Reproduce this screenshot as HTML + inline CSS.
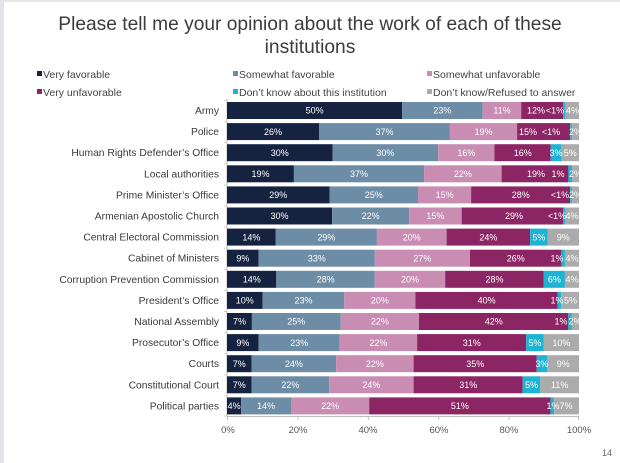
<!DOCTYPE html>
<html>
<head>
<meta charset="utf-8">
<style>
  html,body{margin:0;padding:0;background:#fff;}
  body{width:620px;height:463px;overflow:hidden;position:relative;}
  svg{display:block;font-family:"Liberation Sans","DejaVu Sans",sans-serif;}
  .cat{font-size:10.3px;fill:#3a3a3a;text-anchor:end;}
  .lg{font-size:10.5px;fill:#444;}
  .v{font-size:9px;fill:#fff;text-anchor:middle;}
  .ax{font-size:9.5px;fill:#555;text-anchor:middle;}
</style>
</head>
<body>
<svg width="620" height="463" viewBox="0 0 620 463" xmlns="http://www.w3.org/2000/svg">
  <rect x="0" y="0" width="620" height="463" fill="#fff"/>
  <rect x="0" y="0" width="620" height="2" fill="#e6e6e8"/>
  <rect x="0" y="0" width="4" height="463" fill="#e4e4e8"/>

  <!-- Title -->
  <text x="310" y="30" text-anchor="middle" font-size="19.2" fill="#3c3c3c">Please tell me your opinion about the work of each of these</text>
  <text x="310" y="53" text-anchor="middle" font-size="19.2" fill="#3c3c3c">institutions</text>

  <!-- Legend -->
  <rect x="37" y="71" width="5" height="5" fill="#162340"/>
  <text class="lg" x="43" y="78">Very favorable</text>
  <rect x="233" y="71" width="5" height="5" fill="#6d8ca6"/>
  <text class="lg" x="239" y="78">Somewhat favorable</text>
  <rect x="427" y="71" width="5" height="5" fill="#c98db4"/>
  <text class="lg" x="433" y="78">Somewhat unfavorable</text>
  <rect x="37" y="89" width="5" height="5" fill="#8c2564"/>
  <text class="lg" x="43" y="96">Very unfavorable</text>
  <rect x="233" y="89" width="5" height="5" fill="#1cb4d2"/>
  <text class="lg" x="239" y="96">Don’t know about this institution</text>
  <rect x="427" y="89" width="5" height="5" fill="#ababab"/>
  <text class="lg" x="433" y="96">Don’t know/Refused to answer</text>

  <!-- Axes -->
  <line x1="227" y1="99" x2="227" y2="416" stroke="#bdbdbd" stroke-width="1"/>
  <line x1="227" y1="416.5" x2="579" y2="416.5" stroke="#bdbdbd" stroke-width="1"/>
  <g stroke="#bdbdbd" stroke-width="1">
    <line x1="227.5" y1="416" x2="227.5" y2="420"/>
    <line x1="297.9" y1="416" x2="297.9" y2="420"/>
    <line x1="368.3" y1="416" x2="368.3" y2="420"/>
    <line x1="438.7" y1="416" x2="438.7" y2="420"/>
    <line x1="509.1" y1="416" x2="509.1" y2="420"/>
    <line x1="578.5" y1="416" x2="578.5" y2="420"/>
  </g>
  <g stroke="#cfcfcf" stroke-width="1">
    <line x1="224" y1="100.5" x2="227" y2="100.5"/><line x1="224" y1="121.6" x2="227" y2="121.6"/>
    <line x1="224" y1="142.7" x2="227" y2="142.7"/><line x1="224" y1="163.8" x2="227" y2="163.8"/>
    <line x1="224" y1="184.9" x2="227" y2="184.9"/><line x1="224" y1="206" x2="227" y2="206"/>
    <line x1="224" y1="227.1" x2="227" y2="227.1"/><line x1="224" y1="248.2" x2="227" y2="248.2"/>
    <line x1="224" y1="269.3" x2="227" y2="269.3"/><line x1="224" y1="290.4" x2="227" y2="290.4"/>
    <line x1="224" y1="311.5" x2="227" y2="311.5"/><line x1="224" y1="332.6" x2="227" y2="332.6"/>
    <line x1="224" y1="353.7" x2="227" y2="353.7"/><line x1="224" y1="374.8" x2="227" y2="374.8"/>
    <line x1="224" y1="395.9" x2="227" y2="395.9"/><line x1="224" y1="416" x2="227" y2="416"/>
  </g>
  <text class="ax" x="228" y="433">0%</text>
  <text class="ax" x="298" y="433">20%</text>
  <text class="ax" x="368" y="433">40%</text>
  <text class="ax" x="439" y="433">60%</text>
  <text class="ax" x="509" y="433">80%</text>
  <text class="ax" x="579" y="433">100%</text>
  <text x="612" y="456" text-anchor="end" font-size="9" fill="#666">14</text>

  <!-- Category labels -->
  <text class="cat" x="219" y="114">Army</text>
  <text class="cat" x="219" y="135.1">Police</text>
  <text class="cat" x="219" y="156.2">Human Rights Defender’s Office</text>
  <text class="cat" x="219" y="177.3">Local authorities</text>
  <text class="cat" x="219" y="198.4">Prime Minister’s Office</text>
  <text class="cat" x="219" y="219.5">Armenian Apostolic Church</text>
  <text class="cat" x="219" y="240.6">Central Electoral Commission</text>
  <text class="cat" x="219" y="261.7">Cabinet of Ministers</text>
  <text class="cat" x="219" y="282.8">Corruption Prevention Commission</text>
  <text class="cat" x="219" y="303.9">President’s Office</text>
  <text class="cat" x="219" y="325">National Assembly</text>
  <text class="cat" x="219" y="346.1">Prosecutor’s Office</text>
  <text class="cat" x="219" y="367.2">Courts</text>
  <text class="cat" x="219" y="388.3">Constitutional Court</text>
  <text class="cat" x="219" y="409.4">Political parties</text>

  <!-- Bars -->
  <!-- Row 0 Army -->
  <g>
    <rect x="227" y="102" width="175.1" height="17" fill="#162340"/>
    <rect x="402.1" y="102" width="80.6" height="17" fill="#6d8ca6"/>
    <rect x="482.7" y="102" width="38.5" height="17" fill="#c98db4"/>
    <rect x="521.2" y="102" width="42" height="17" fill="#8c2564"/>
    <rect x="563.2" y="102" width="1.8" height="17" fill="#1cb4d2"/>
    <rect x="565" y="102" width="14" height="17" fill="#ababab"/>
    <text class="v" x="314.6" y="113.7">50%</text>
    <text class="v" x="442.4" y="113.7">23%</text>
    <text class="v" x="502" y="113.7">11%</text>
    <text class="v" x="536" y="113.7">12%</text>
    <text class="v" x="555" y="113.7">&lt;1%</text>
    <text class="v" x="572.5" y="113.7">4%</text>
  </g>
  <!-- Row 1 Police -->
  <g>
    <rect x="227" y="123.1" width="92" height="17" fill="#162340"/>
    <rect x="319" y="123.1" width="130.9" height="17" fill="#6d8ca6"/>
    <rect x="449.9" y="123.1" width="67.2" height="17" fill="#c98db4"/>
    <rect x="517.1" y="123.1" width="53.1" height="17" fill="#8c2564"/>
    <rect x="570.2" y="123.1" width="1.7" height="17" fill="#1cb4d2"/>
    <rect x="571.9" y="123.1" width="7.1" height="17" fill="#ababab"/>
    <text class="v" x="273" y="134.8">26%</text>
    <text class="v" x="384.5" y="134.8">37%</text>
    <text class="v" x="483.5" y="134.8">19%</text>
    <text class="v" x="528" y="134.8">15%</text>
    <text class="v" x="551" y="134.8">&lt;1%</text>
    <text class="v" x="575.5" y="134.8">2%</text>
  </g>
  <!-- Row 2 HRDO -->
  <g>
    <rect x="227" y="144.2" width="105.6" height="17" fill="#162340"/>
    <rect x="332.6" y="144.2" width="105.6" height="17" fill="#6d8ca6"/>
    <rect x="438.2" y="144.2" width="56.3" height="17" fill="#c98db4"/>
    <rect x="494.5" y="144.2" width="56.3" height="17" fill="#8c2564"/>
    <rect x="550.8" y="144.2" width="10.6" height="17" fill="#1cb4d2"/>
    <rect x="561.4" y="144.2" width="17.6" height="17" fill="#ababab"/>
    <text class="v" x="279.8" y="155.9">30%</text>
    <text class="v" x="385.4" y="155.9">30%</text>
    <text class="v" x="466.4" y="155.9">16%</text>
    <text class="v" x="522.7" y="155.9">16%</text>
    <text class="v" x="556.1" y="155.9">3%</text>
    <text class="v" x="570.2" y="155.9">5%</text>
  </g>
  <!-- Row 3 Local -->
  <g>
    <rect x="227" y="165.3" width="66.9" height="17" fill="#162340"/>
    <rect x="293.9" y="165.3" width="130.2" height="17" fill="#6d8ca6"/>
    <rect x="424.1" y="165.3" width="77.5" height="17" fill="#c98db4"/>
    <rect x="501.6" y="165.3" width="66.8" height="17" fill="#8c2564"/>
    <rect x="568.4" y="165.3" width="3.6" height="17" fill="#1cb4d2"/>
    <rect x="572" y="165.3" width="7" height="17" fill="#ababab"/>
    <text class="v" x="260.5" y="177">19%</text>
    <text class="v" x="359" y="177">37%</text>
    <text class="v" x="462.9" y="177">22%</text>
    <text class="v" x="536" y="177">19%</text>
    <text class="v" x="558" y="177">1%</text>
    <text class="v" x="575.5" y="177">2%</text>
  </g>
  <!-- Row 4 PM -->
  <g>
    <rect x="227" y="186.4" width="102.6" height="17" fill="#162340"/>
    <rect x="329.6" y="186.4" width="88.4" height="17" fill="#6d8ca6"/>
    <rect x="418" y="186.4" width="53.1" height="17" fill="#c98db4"/>
    <rect x="471.1" y="186.4" width="99.1" height="17" fill="#8c2564"/>
    <rect x="570.2" y="186.4" width="1.7" height="17" fill="#1cb4d2"/>
    <rect x="571.9" y="186.4" width="7.1" height="17" fill="#ababab"/>
    <text class="v" x="278.3" y="198.1">29%</text>
    <text class="v" x="373.8" y="198.1">25%</text>
    <text class="v" x="444.6" y="198.1">15%</text>
    <text class="v" x="520.7" y="198.1">28%</text>
    <text class="v" x="560" y="198.1">&lt;1%</text>
    <text class="v" x="575.5" y="198.1">2%</text>
  </g>
  <!-- Row 5 Church -->
  <g>
    <rect x="227" y="207.5" width="105.1" height="17" fill="#162340"/>
    <rect x="332.1" y="207.5" width="77" height="17" fill="#6d8ca6"/>
    <rect x="409.1" y="207.5" width="52.6" height="17" fill="#c98db4"/>
    <rect x="461.7" y="207.5" width="101.5" height="17" fill="#8c2564"/>
    <rect x="563.2" y="207.5" width="1.8" height="17" fill="#1cb4d2"/>
    <rect x="565" y="207.5" width="14" height="17" fill="#ababab"/>
    <text class="v" x="279.5" y="219.2">30%</text>
    <text class="v" x="370.6" y="219.2">22%</text>
    <text class="v" x="435.4" y="219.2">15%</text>
    <text class="v" x="514" y="219.2">29%</text>
    <text class="v" x="557" y="219.2">&lt;1%</text>
    <text class="v" x="572" y="219.2">4%</text>
  </g>
  <!-- Row 6 CEC -->
  <g>
    <rect x="227" y="228.6" width="48.8" height="17" fill="#162340"/>
    <rect x="275.8" y="228.6" width="101.1" height="17" fill="#6d8ca6"/>
    <rect x="376.9" y="228.6" width="69.7" height="17" fill="#c98db4"/>
    <rect x="446.6" y="228.6" width="83.6" height="17" fill="#8c2564"/>
    <rect x="530.2" y="228.6" width="17.4" height="17" fill="#1cb4d2"/>
    <rect x="547.6" y="228.6" width="31.4" height="17" fill="#ababab"/>
    <text class="v" x="251.4" y="240.3">14%</text>
    <text class="v" x="326.4" y="240.3">29%</text>
    <text class="v" x="411.8" y="240.3">20%</text>
    <text class="v" x="488.4" y="240.3">24%</text>
    <text class="v" x="538.9" y="240.3">5%</text>
    <text class="v" x="563.3" y="240.3">9%</text>
  </g>
  <!-- Row 7 Cabinet -->
  <g>
    <rect x="227" y="249.7" width="31.7" height="17" fill="#162340"/>
    <rect x="258.7" y="249.7" width="116.1" height="17" fill="#6d8ca6"/>
    <rect x="374.8" y="249.7" width="95.1" height="17" fill="#c98db4"/>
    <rect x="469.9" y="249.7" width="91.5" height="17" fill="#8c2564"/>
    <rect x="561.4" y="249.7" width="3.5" height="17" fill="#1cb4d2"/>
    <rect x="564.9" y="249.7" width="14.1" height="17" fill="#ababab"/>
    <text class="v" x="242.9" y="261.4">9%</text>
    <text class="v" x="316.8" y="261.4">33%</text>
    <text class="v" x="422.4" y="261.4">27%</text>
    <text class="v" x="515.7" y="261.4">26%</text>
    <text class="v" x="557" y="261.4">1%</text>
    <text class="v" x="572" y="261.4">4%</text>
  </g>
  <!-- Row 8 CPC -->
  <g>
    <rect x="227" y="270.8" width="49.3" height="17" fill="#162340"/>
    <rect x="276.3" y="270.8" width="98.5" height="17" fill="#6d8ca6"/>
    <rect x="374.8" y="270.8" width="70.4" height="17" fill="#c98db4"/>
    <rect x="445.2" y="270.8" width="98.6" height="17" fill="#8c2564"/>
    <rect x="543.8" y="270.8" width="21.1" height="17" fill="#1cb4d2"/>
    <rect x="564.9" y="270.8" width="14.1" height="17" fill="#ababab"/>
    <text class="v" x="251.7" y="282.5">14%</text>
    <text class="v" x="325.6" y="282.5">28%</text>
    <text class="v" x="410" y="282.5">20%</text>
    <text class="v" x="494.5" y="282.5">28%</text>
    <text class="v" x="554.4" y="282.5">6%</text>
    <text class="v" x="572" y="282.5">4%</text>
  </g>
  <!-- Row 9 President -->
  <g>
    <rect x="227" y="291.9" width="35.6" height="17" fill="#162340"/>
    <rect x="262.6" y="291.9" width="81.7" height="17" fill="#6d8ca6"/>
    <rect x="344.3" y="291.9" width="71.1" height="17" fill="#c98db4"/>
    <rect x="415.4" y="291.9" width="142.3" height="17" fill="#8c2564"/>
    <rect x="557.7" y="291.9" width="3.5" height="17" fill="#1cb4d2"/>
    <rect x="561.2" y="291.9" width="17.8" height="17" fill="#ababab"/>
    <text class="v" x="244.8" y="303.6">10%</text>
    <text class="v" x="303.5" y="303.6">23%</text>
    <text class="v" x="379.9" y="303.6">20%</text>
    <text class="v" x="486.6" y="303.6">40%</text>
    <text class="v" x="557" y="303.6">1%</text>
    <text class="v" x="570.5" y="303.6">5%</text>
  </g>
  <!-- Row 10 NA -->
  <g>
    <rect x="227" y="313" width="24.9" height="17" fill="#162340"/>
    <rect x="251.9" y="313" width="88.9" height="17" fill="#6d8ca6"/>
    <rect x="340.8" y="313" width="78.2" height="17" fill="#c98db4"/>
    <rect x="419" y="313" width="149.3" height="17" fill="#8c2564"/>
    <rect x="568.3" y="313" width="3.6" height="17" fill="#1cb4d2"/>
    <rect x="571.9" y="313" width="7.1" height="17" fill="#ababab"/>
    <text class="v" x="239.5" y="324.7">7%</text>
    <text class="v" x="296.3" y="324.7">25%</text>
    <text class="v" x="379.9" y="324.7">22%</text>
    <text class="v" x="493.7" y="324.7">42%</text>
    <text class="v" x="561" y="324.7">1%</text>
    <text class="v" x="575" y="324.7">2%</text>
  </g>
  <!-- Row 11 Prosecutor -->
  <g>
    <rect x="227" y="334.1" width="31.7" height="17" fill="#162340"/>
    <rect x="258.7" y="334.1" width="80.9" height="17" fill="#6d8ca6"/>
    <rect x="339.6" y="334.1" width="77.5" height="17" fill="#c98db4"/>
    <rect x="417.1" y="334.1" width="109.1" height="17" fill="#8c2564"/>
    <rect x="526.2" y="334.1" width="17.6" height="17" fill="#1cb4d2"/>
    <rect x="543.8" y="334.1" width="35.2" height="17" fill="#ababab"/>
    <text class="v" x="242.9" y="345.8">9%</text>
    <text class="v" x="299.2" y="345.8">23%</text>
    <text class="v" x="378.4" y="345.8">22%</text>
    <text class="v" x="471.7" y="345.8">31%</text>
    <text class="v" x="535" y="345.8">5%</text>
    <text class="v" x="561.4" y="345.8">10%</text>
  </g>
  <!-- Row 12 Courts -->
  <g>
    <rect x="227" y="355.2" width="24.6" height="17" fill="#162340"/>
    <rect x="251.6" y="355.2" width="84.5" height="17" fill="#6d8ca6"/>
    <rect x="336.1" y="355.2" width="77.5" height="17" fill="#c98db4"/>
    <rect x="413.6" y="355.2" width="123.2" height="17" fill="#8c2564"/>
    <rect x="536.8" y="355.2" width="10.5" height="17" fill="#1cb4d2"/>
    <rect x="547.3" y="355.2" width="31.7" height="17" fill="#ababab"/>
    <text class="v" x="239.3" y="366.9">7%</text>
    <text class="v" x="293.9" y="366.9">24%</text>
    <text class="v" x="374.9" y="366.9">22%</text>
    <text class="v" x="475.2" y="366.9">35%</text>
    <text class="v" x="542" y="366.9">3%</text>
    <text class="v" x="563.2" y="366.9">9%</text>
  </g>
  <!-- Row 13 CC -->
  <g>
    <rect x="227" y="376.3" width="24.6" height="17" fill="#162340"/>
    <rect x="251.6" y="376.3" width="77.5" height="17" fill="#6d8ca6"/>
    <rect x="329.1" y="376.3" width="84.5" height="17" fill="#c98db4"/>
    <rect x="413.6" y="376.3" width="109.1" height="17" fill="#8c2564"/>
    <rect x="522.7" y="376.3" width="17.6" height="17" fill="#1cb4d2"/>
    <rect x="540.3" y="376.3" width="38.7" height="17" fill="#ababab"/>
    <text class="v" x="239.3" y="388">7%</text>
    <text class="v" x="290.4" y="388">22%</text>
    <text class="v" x="371.4" y="388">24%</text>
    <text class="v" x="468.2" y="388">31%</text>
    <text class="v" x="531.5" y="388">5%</text>
    <text class="v" x="559.7" y="388">11%</text>
  </g>
  <!-- Row 14 Parties -->
  <g>
    <rect x="227" y="397.4" width="14.2" height="17" fill="#162340"/>
    <rect x="241.2" y="397.4" width="49.8" height="17" fill="#6d8ca6"/>
    <rect x="291" y="397.4" width="78.2" height="17" fill="#c98db4"/>
    <rect x="369.2" y="397.4" width="181.4" height="17" fill="#8c2564"/>
    <rect x="550.6" y="397.4" width="3.5" height="17" fill="#1cb4d2"/>
    <rect x="554.1" y="397.4" width="24.9" height="17" fill="#ababab"/>
    <text class="v" x="234.1" y="409.1">4%</text>
    <text class="v" x="266.1" y="409.1">14%</text>
    <text class="v" x="330.1" y="409.1">22%</text>
    <text class="v" x="459.9" y="409.1">51%</text>
    <text class="v" x="553" y="409.1">1%</text>
    <text class="v" x="566" y="409.1">7%</text>
  </g>
</svg>
</body>
</html>
